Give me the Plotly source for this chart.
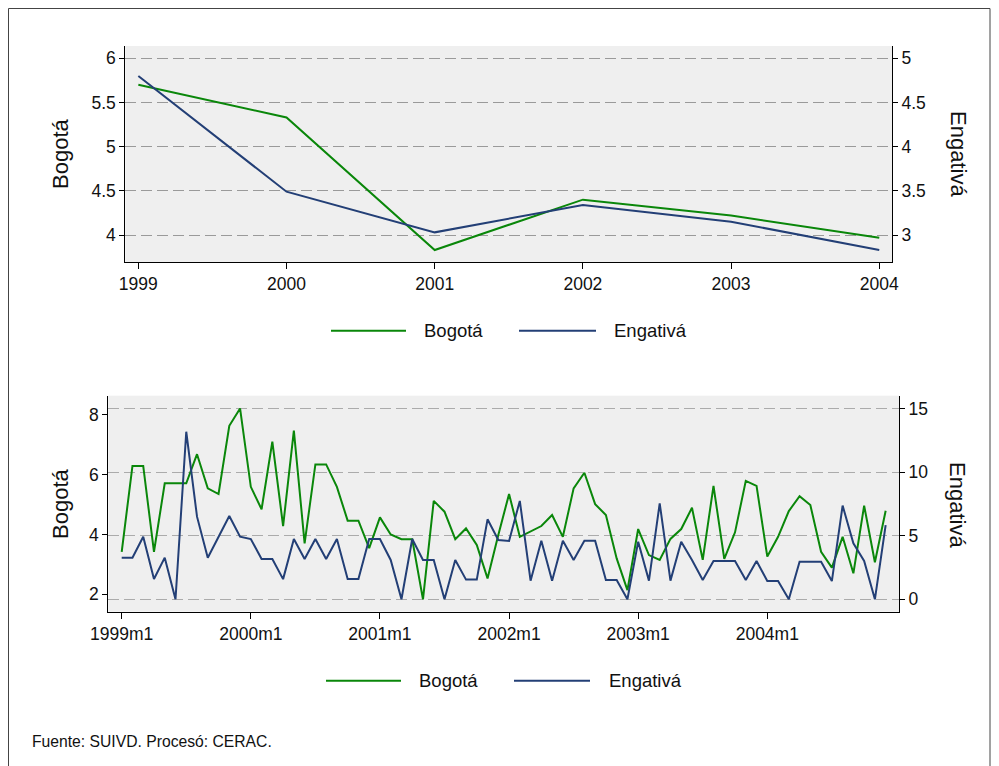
import plotly.graph_objects as go

# ---------------- data ----------------
years = [1999, 2000, 2001, 2002, 2003, 2004]
bogota_annual = [5.70, 5.33, 3.83, 4.40, 4.22, 3.97]
engativa_annual = [4.80, 3.49, 3.03, 3.34, 3.15, 2.83]

months = list(range(72))  # 0 = 1999m1 ... 71 = 2004m12
month_tickvals = [0, 12, 24, 36, 48, 60]
month_ticktext = ["1999m1", "2000m1", "2001m1", "2002m1", "2003m1", "2004m1"]

bogota_monthly = [
    3.42, 6.29, 6.29, 3.42, 5.71, 5.71, 5.71, 6.68, 5.54, 5.35, 7.63, 8.21,
    5.59, 4.84, 7.10, 4.28, 7.47, 3.70, 6.34, 6.34, 5.59, 4.46, 4.46, 3.54,
    4.57, 4.00, 3.84, 3.84, 1.83, 5.12, 4.76, 3.84, 4.20, 3.65, 2.53, 3.98,
    5.35, 3.92, 4.11, 4.28, 4.65, 3.92, 5.54, 6.06, 5.01, 4.65, 3.20, 2.14,
    4.18, 3.31, 3.15, 3.85, 4.18, 4.89, 3.15, 5.62, 3.18, 4.07, 5.79, 5.62,
    3.26, 3.92, 4.78, 5.28, 4.98, 3.42, 2.89, 3.92, 2.70, 4.96, 3.07, 4.79,
]
engativa_monthly = [
    3.28, 3.28, 4.93, 1.60, 3.28, 0.00, 13.20, 6.51, 3.28, 4.93, 6.56, 4.93,
    4.75, 3.18, 3.18, 1.59, 4.75, 3.18, 4.75, 3.18, 4.75, 1.59, 1.59, 4.75,
    4.75, 3.10, 0.00, 4.75, 3.10, 3.10, 0.00, 3.10, 1.55, 1.55, 6.30, 4.67,
    4.59, 7.75, 1.47, 4.62, 1.47, 4.62, 3.10, 4.62, 4.62, 1.52, 1.52, 0.00,
    4.54, 1.47, 7.56, 1.47, 4.54, 3.10, 1.52, 3.02, 3.02, 3.02, 1.52, 3.02,
    1.44, 1.44, 0.00, 2.96, 2.96, 2.96, 1.44, 7.38, 4.41, 3.02, 0.00, 5.85,
]

left_ticks_top = [4, 4.5, 5, 5.5, 6]
right_ticks_top = [3, 3.5, 4, 4.5, 5]
left_ticks_bot = [2, 4, 6, 8]
right_ticks_bot = [0, 5, 10, 15]

# ---------------- style ----------------
W, H = 999, 766
OFF = 8  # the page body margin shifts the figure by 8 px
GREEN = "#0A870A"
NAVY = "#233F76"
FONT = "Liberation Sans, Arial, sans-serif"


def px(x):
    return (x - OFF) / W


def py(y):
    return 1 - (y - OFF) / H


fig = go.Figure()
fig.add_trace(go.Scatter(x=years, y=bogota_annual, mode="lines", name="Bogotá",
                         line=dict(color=GREEN, width=2), xaxis="x", yaxis="y"))
fig.add_trace(go.Scatter(x=years, y=engativa_annual, mode="lines", name="Engativá",
                         line=dict(color=NAVY, width=2), xaxis="x", yaxis="y2"))
fig.add_trace(go.Scatter(x=months, y=bogota_monthly, mode="lines", name="Bogotá",
                         line=dict(color=GREEN, width=2), xaxis="x2", yaxis="y3"))
fig.add_trace(go.Scatter(x=months, y=engativa_monthly, mode="lines", name="Engativá",
                         line=dict(color=NAVY, width=2), xaxis="x2", yaxis="y4"))

axis_common = dict(showline=True, linecolor="#000", linewidth=1, ticks="outside",
                   tickcolor="#000", zeroline=False, automargin=False,
                   tickfont=dict(family=FONT, size=17.5, color="#111"))
grid_dash = "11px,5px"

fig.update_layout(
    width=W, height=H,
    margin=dict(l=0, r=0, t=0, b=0, autoexpand=False),
    paper_bgcolor="white",
    plot_bgcolor="#EFEFEF",
    showlegend=False,
    font=dict(family=FONT, size=18, color="#111"),
    xaxis=dict(domain=[px(125.3), px(892)], anchor="y", range=[1998.912, 2004.086],
               tickvals=years, ticktext=[str(y) for y in years], ticklen=6,
               showgrid=False, **axis_common),
    yaxis=dict(domain=[py(262.3), py(46)], anchor="x", range=[3.691, 6.139],
               tickvals=left_ticks_top, ticklen=5, showgrid=False, **axis_common),
    yaxis2=dict(overlaying="y", side="right", anchor="x", range=[2.691, 5.139],
                tickvals=right_ticks_top, ticklen=5, showgrid=True,
                gridcolor="#9A9A9A", gridwidth=1, griddash=grid_dash, **axis_common),
    xaxis2=dict(domain=[px(108.3), px(899)], anchor="y3", range=[-1.245, 72.24],
                tickvals=month_tickvals, ticktext=month_ticktext, ticklen=6,
                showgrid=False, **axis_common),
    yaxis3=dict(domain=[py(611.7), py(395.7)], anchor="x2", range=[1.418, 8.635],
                tickvals=left_ticks_bot, ticklen=5, showgrid=False, **axis_common),
    yaxis4=dict(overlaying="y3", side="right", anchor="x2", range=[-0.977, 16.04],
                tickvals=right_ticks_bot, ticklen=5, showgrid=True,
                gridcolor="#ABABAB", gridwidth=1, griddash=grid_dash, **axis_common),
)

shapes = [
    # outer frame of the graph region
    dict(type="rect", xref="paper", yref="paper", x0=px(8.5), x1=px(990), y0=py(790), y1=py(8.5),
         line=dict(color="#444", width=1), fillcolor="rgba(0,0,0,0)", layer="below"),
]
annotations = []

# legends (one per panel)
for ly, g0, g1, t1, b0, b1, t2 in [
    (330.7, 331, 406, 421.7, 519, 596, 611.7),
    (680.7, 326, 401, 416.7, 514, 590, 606.7),
]:
    shapes.append(dict(type="line", xref="paper", yref="paper", x0=px(g0), x1=px(g1),
                       y0=py(ly), y1=py(ly), line=dict(color=GREEN, width=2)))
    shapes.append(dict(type="line", xref="paper", yref="paper", x0=px(b0), x1=px(b1),
                       y0=py(ly), y1=py(ly), line=dict(color=NAVY, width=2)))
    annotations.append(dict(text="Bogotá", xref="paper", yref="paper", x=px(t1), y=py(ly),
                            xanchor="left", yanchor="middle", showarrow=False,
                            font=dict(family=FONT, size=18.5, color="#111")))
    annotations.append(dict(text="Engativá", xref="paper", yref="paper", x=px(t2), y=py(ly),
                            xanchor="left", yanchor="middle", showarrow=False,
                            font=dict(family=FONT, size=18.5, color="#111")))

# axis titles
for x, y, txt, ang in [
    (61, 154, "Bogotá", -90), (958, 154, "Engativá", 90),
    (60, 504, "Bogotá", -90), (958, 505, "Engativá", 90),
]:
    annotations.append(dict(text=txt, xref="paper", yref="paper", x=px(x), y=py(y),
                            xanchor="center", yanchor="middle", textangle=ang, showarrow=False,
                            font=dict(family=FONT, size=22, color="#111")))

# note
annotations.append(dict(text="Fuente: SUIVD. Procesó: CERAC.", xref="paper", yref="paper",
                        x=px(30), y=py(741), xanchor="left", yanchor="middle", showarrow=False,
                        font=dict(family=FONT, size=15.7, color="#111")))

fig.update_layout(shapes=shapes, annotations=annotations)
fig.write_html("out.html")
